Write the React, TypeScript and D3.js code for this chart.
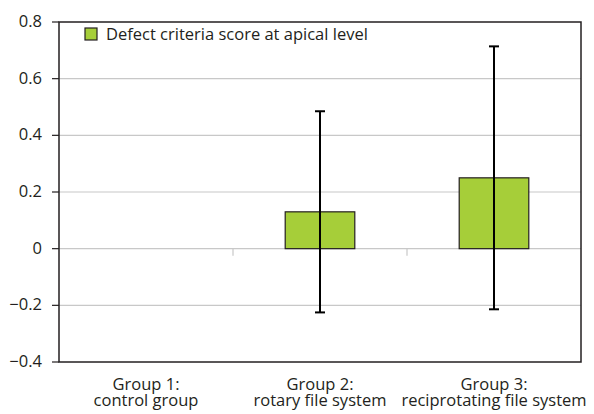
import React from "react";
import * as d3 from "d3";

const categories = ["Group 1:|control group", "Group 2:|rotary file system", "Group 3:|reciprotating file system"];
const means = [0, 0.13, 0.25];
const errors = [null, 0.355, 0.464];
const yTicks = [-0.4, -0.2, 0, 0.2, 0.4, 0.6, 0.8];
const legendLabel = "Defect criteria score at apical level";

const W = 594, H = 414;
const left = 59, right = 581, top = 22, bottom = 362;
const FONT = "'Open Sans', sans-serif";
const FS = 16.5;

export default function App() {
  const y = d3.scaleLinear().domain([-0.4, 0.8]).range([bottom, top]);
  const x = d3.scaleBand().domain(categories).range([left, right]).paddingInner(0).paddingOuter(0);
  const bw = x.bandwidth() * 0.4;
  const fmt = (v: number) => (v < 0 ? "\u2212" + Math.abs(v) : String(v));
  const y0 = y(0);
  return (
    <svg width={W} height={H} style={{ position: "absolute", left: 0, top: 0, background: "#fff" }} fontFamily={FONT}>
      {yTicks.filter(t => t !== 0.8 && t !== -0.4).map(t => (
        <line key={"g" + t} x1={left} x2={right} y1={y(t)} y2={y(t)} stroke="#c8c8c8" strokeWidth={1.2} />
      ))}
      {categories.slice(1).map(c => (
        <line key={"ct" + c} x1={x(c)!} x2={x(c)!} y1={y0} y2={y0 + 7} stroke="#c8c8c8" strokeWidth={1.2} />
      ))}
      {categories.map((c, i) => {
        const cx = x(c)! + x.bandwidth() / 2;
        const v = means[i];
        if (v === 0) return null;
        return (
          <rect key={"b" + c} x={cx - bw / 2} y={y(Math.max(v, 0))} width={bw} height={Math.abs(y(v) - y0)}
            fill="#a6ce39" stroke="#231f20" strokeWidth={1.2} />
        );
      })}
      {categories.map((c, i) => {
        const e = errors[i];
        if (e == null) return null;
        const cx = x(c)! + x.bandwidth() / 2;
        const hi = y(means[i] + e), lo = y(means[i] - e);
        return (
          <g key={"e" + c} stroke="#000" strokeWidth={2}>
            <line x1={cx} x2={cx} y1={hi} y2={lo} />
            <line x1={cx - 5} x2={cx + 5} y1={hi} y2={hi} />
            <line x1={cx - 5} x2={cx + 5} y1={lo} y2={lo} />
          </g>
        );
      })}
      <rect x={left} y={top} width={right - left} height={bottom - top} fill="none" stroke="#231f20" strokeWidth={1.5} />
      {yTicks.map(t => (
        <g key={"t" + t}>
          <line x1={left - 7} x2={left} y1={y(t)} y2={y(t)} stroke="#231f20" strokeWidth={1.2} />
          <text x={42} y={y(t) + 5} textAnchor="end" fontSize={FS} fill="#231f20">{fmt(t)}</text>
        </g>
      ))}
      {categories.map(c => {
        const cx = x(c)! + x.bandwidth() / 2;
        const [a, b] = c.split("|");
        return (
          <text key={"l" + c} x={cx} y={389.5} fontSize={FS} fill="#231f20" textAnchor="middle">
            <tspan x={cx}>{a}</tspan>
            <tspan x={cx} dy={16.5}>{b}</tspan>
          </text>
        );
      })}
      <rect x={85} y={28} width={12} height={12} fill="#a6ce39" stroke="#231f20" strokeWidth={1.2} />
      <text x={106} y={40} fontSize={FS} fill="#231f20">{legendLabel}</text>
    </svg>
  );
}
